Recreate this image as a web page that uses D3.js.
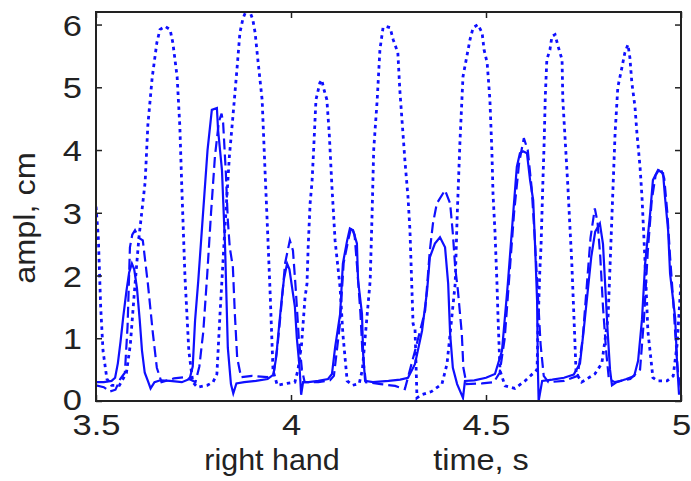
<!DOCTYPE html>
<html>
<head>
<meta charset="utf-8">
<script src="https://cdn.jsdelivr.net/npm/d3@7"></script>
<style>
  body { margin: 0; background: #fff; }
  text { font-family: "Liberation Sans", Arial, sans-serif; fill: #222; }
</style>
</head>
<body>
<svg id="chart" width="691" height="481"></svg>
<script>
// dotted series (large peaks)
var tDot = [3.500,3.506,3.512,3.518,3.528,3.540,3.560,3.578,3.588,3.598,3.610,3.626,3.633,3.644,3.656,3.664,3.677,3.690,3.697,3.708,3.715,3.720,3.728,3.738,3.748,3.760,3.785,3.800,3.810,3.818,3.830,3.842,3.851,3.862,3.869,3.877,3.887,3.895,3.902,3.908,3.915,3.926,3.933,3.938,3.946,3.954,3.965,3.990,4.010,4.018,4.027,4.036,4.041,4.044,4.049,4.054,4.058,4.064,4.074,4.079,4.083,4.092,4.098,4.105,4.113,4.126,4.133,4.144,4.158,4.175,4.183,4.190,4.203,4.208,4.212,4.221,4.228,4.236,4.244,4.254,4.262,4.274,4.279,4.287,4.292,4.300,4.305,4.313,4.318,4.323,4.335,4.360,4.387,4.400,4.408,4.421,4.426,4.433,4.441,4.459,4.467,4.479,4.490,4.495,4.503,4.510,4.515,4.518,4.523,4.528,4.531,4.536,4.549,4.574,4.600,4.631,4.633,4.638,4.641,4.646,4.649,4.652,4.656,4.664,4.669,4.677,4.685,4.695,4.697,4.703,4.710,4.715,4.720,4.727,4.731,4.745,4.779,4.797,4.813,4.831,4.838,4.849,4.856,4.864,4.869,4.874,4.882,4.887,4.895,4.900,4.908,4.915,4.928,4.940,4.964,4.980,4.990,5.000];
var vDot = [3.10,2.60,1.50,0.80,0.35,0.25,0.25,0.45,0.90,1.70,2.60,3.49,4.40,5.15,5.71,5.92,5.97,5.92,5.71,5.17,4.37,3.41,2.00,0.80,0.30,0.22,0.25,0.30,0.43,1.39,2.70,3.90,4.53,5.33,5.87,6.10,6.25,6.20,6.08,5.87,5.44,4.80,3.73,3.00,1.80,0.48,0.25,0.28,0.30,0.50,0.90,1.65,1.87,2.45,3.15,3.50,4.00,4.80,5.07,5.12,5.00,4.80,4.27,3.41,2.56,1.80,1.07,0.32,0.25,0.28,0.50,1.00,1.92,3.00,4.00,4.80,5.60,5.95,5.97,5.95,5.76,5.55,4.96,4.27,3.84,3.25,2.72,1.23,1.15,0.05,0.10,0.15,0.27,0.59,1.07,1.87,2.93,4.10,5.17,5.76,5.95,6.00,5.87,5.60,5.39,4.80,4.00,3.30,2.70,1.90,1.30,0.48,0.24,0.20,0.32,0.50,1.12,2.08,2.45,3.52,4.10,4.85,5.44,5.60,5.81,5.84,5.65,5.44,4.80,4.16,3.41,2.80,2.20,1.10,0.45,0.30,0.43,0.60,1.33,4.27,5.00,5.33,5.55,5.68,5.47,5.07,4.69,4.27,3.73,3.25,2.19,1.12,0.37,0.32,0.32,0.40,0.90,1.90];

// solid series
var tSolid = [3.500,3.520,3.540,3.549,3.556,3.563,3.570,3.578,3.585,3.592,3.598,3.605,3.612,3.618,3.625,3.633,3.640,3.650,3.665,3.690,3.720,3.740,3.748,3.754,3.762,3.770,3.778,3.786,3.797,3.810,3.813,3.823,3.831,3.838,3.846,3.852,3.860,3.880,3.910,3.940,3.955,3.962,3.968,3.975,3.982,3.990,3.996,4.003,4.010,4.015,4.022,4.026,4.031,4.045,4.070,4.095,4.105,4.113,4.126,4.133,4.144,4.151,4.159,4.169,4.172,4.182,4.185,4.190,4.210,4.250,4.280,4.300,4.318,4.336,4.349,4.356,4.369,4.382,4.395,4.403,4.408,4.415,4.426,4.441,4.446,4.470,4.500,4.523,4.541,4.556,4.569,4.579,4.587,4.595,4.605,4.613,4.621,4.626,4.631,4.633,4.635,4.644,4.670,4.700,4.725,4.741,4.750,4.760,4.770,4.780,4.792,4.800,4.806,4.812,4.818,4.823,4.835,4.860,4.880,4.890,4.900,4.908,4.921,4.928,4.941,4.954,4.959,4.967,4.972,4.985,4.990,4.995];
var vSolid = [0.30,0.30,0.32,0.37,0.60,0.95,1.35,1.75,2.05,2.19,2.10,1.80,1.30,0.80,0.45,0.32,0.20,0.30,0.33,0.32,0.30,0.35,0.55,1.28,1.90,2.60,3.30,4.00,4.64,4.67,4.32,3.68,2.45,0.85,0.27,0.12,0.28,0.30,0.32,0.35,0.42,0.70,1.10,1.55,1.95,2.19,2.10,1.80,1.50,1.00,0.53,0.10,0.30,0.30,0.32,0.35,0.43,0.85,1.39,2.19,2.56,2.75,2.72,2.51,1.92,1.39,0.75,0.32,0.30,0.32,0.34,0.37,0.59,1.12,1.76,2.29,2.51,2.61,2.45,1.87,1.07,0.53,0.27,0.05,0.32,0.33,0.37,0.43,0.80,1.87,2.93,3.73,3.95,3.98,3.95,3.52,3.20,2.45,1.60,0.53,0.00,0.32,0.34,0.37,0.42,0.60,1.10,1.70,2.30,2.70,2.83,2.50,1.80,1.10,0.50,0.25,0.30,0.35,0.40,0.64,1.30,2.19,3.00,3.52,3.68,3.63,3.25,2.72,2.03,1.33,0.59,0.10];

// dashed series
var tDash = [3.500,3.520,3.535,3.550,3.562,3.574,3.581,3.587,3.593,3.600,3.610,3.620,3.633,3.646,3.656,3.668,3.700,3.730,3.755,3.765,3.775,3.785,3.795,3.805,3.815,3.822,3.826,3.833,3.838,3.843,3.851,3.856,3.862,3.872,3.900,3.940,3.955,3.965,3.975,3.985,3.997,4.005,4.012,4.020,4.028,4.035,4.070,4.100,4.110,4.125,4.135,4.148,4.155,4.163,4.170,4.178,4.183,4.192,4.230,4.267,4.292,4.318,4.344,4.356,4.364,4.374,4.395,4.408,4.415,4.421,4.428,4.438,4.442,4.450,4.490,4.520,4.535,4.548,4.560,4.572,4.585,4.597,4.607,4.617,4.625,4.632,4.640,4.648,4.660,4.700,4.735,4.748,4.758,4.768,4.779,4.786,4.793,4.800,4.808,4.815,4.830,4.870,4.895,4.905,4.915,4.925,4.935,4.947,4.957,4.965,4.972,4.980,4.987,4.993,5.000];
var vDash = [0.25,0.22,0.15,0.18,0.35,0.45,1.20,2.45,2.65,2.72,2.60,2.56,1.87,1.07,0.53,0.30,0.36,0.38,0.30,0.55,1.10,2.00,3.00,3.90,4.45,4.58,4.43,3.63,2.88,2.45,2.13,1.39,0.69,0.38,0.40,0.38,0.42,0.85,1.50,2.20,2.56,2.40,1.80,1.00,0.50,0.30,0.30,0.33,0.40,1.20,2.20,2.60,2.78,2.65,2.10,1.40,0.80,0.30,0.27,0.24,0.19,0.80,1.44,2.40,2.83,3.15,3.36,3.15,2.67,2.13,1.76,1.07,0.53,0.27,0.28,0.30,0.45,1.00,2.00,3.00,3.80,4.19,4.00,3.40,2.60,1.80,0.90,0.40,0.30,0.32,0.40,1.00,1.80,2.60,3.07,2.85,2.30,1.50,0.80,0.35,0.30,0.35,0.50,1.30,2.40,3.20,3.60,3.72,3.55,3.00,2.30,1.60,0.90,0.40,0.20];

var xTicks = [3.5, 4, 4.5, 5];
var yTicks = [0, 1, 2, 3, 4, 5, 6];

var margin = {top: 12, right: 10, bottom: 80, left: 96};
var width = 691 - margin.left - margin.right;
var height = 481 - margin.top - margin.bottom;

var svg = d3.select("#chart");
var g = svg.append("g").attr("transform", "translate(" + margin.left + "," + margin.top + ")");

var x = d3.scaleLinear().domain([3.5, 5]).range([0, width]);
var y = d3.scaleLinear().domain([0, 6.2]).range([height, 0]);

g.append("clipPath").attr("id", "clip")
  .append("rect").attr("width", width).attr("height", height);

function pts(ts, vs) { return ts.map(function(t, i) { return [t, vs[i]]; }); }

var line = d3.line().x(function(d){ return x(d[0]); }).y(function(d){ return y(d[1]); });

var plot = g.append("g").attr("clip-path", "url(#clip)");
plot.append("path").datum(pts(tSolid, vSolid)).attr("d", line)
  .attr("fill", "none").attr("stroke", "#0f0fff").attr("stroke-width", 2.2);
plot.append("path").datum(pts(tDash, vDash)).attr("d", line)
  .attr("fill", "none").attr("stroke", "#0f0fff").attr("stroke-width", 2.2)
  .attr("stroke-dasharray", "11,5");
plot.append("path").datum(pts(tDot, vDot)).attr("d", line)
  .attr("fill", "none").attr("stroke", "#0f0fff").attr("stroke-width", 2.8)
  .attr("stroke-dasharray", "3.5,4");

// axes box with inward ticks on every side
function styleAxis(sel) {
  sel.select(".domain").remove();
  sel.selectAll(".tick line").attr("stroke", "#222").attr("stroke-width", 1.5);
}
var xb = g.append("g").attr("transform", "translate(0," + height + ")")
  .call(d3.axisBottom(x).tickValues(xTicks).tickSize(-6).tickFormat(d3.format("")))
  .call(styleAxis);
xb.selectAll("text").attr("y", 0).attr("dy", 0)
  .attr("font-size", "30px").attr("fill", "#222")
  .attr("transform", "translate(0,34) scale(1.15,1)");

g.append("g")
  .call(d3.axisTop(x).tickValues(xTicks).tickSize(-6).tickFormat(""))
  .call(styleAxis);

var yl = g.append("g")
  .call(d3.axisLeft(y).tickValues(yTicks).tickSize(-6).tickFormat(d3.format("d")))
  .call(styleAxis);
yl.selectAll("text").attr("x", 0).attr("dy", "0.35em")
  .attr("font-size", "30px").attr("fill", "#222")
  .attr("transform", function(d) { return "translate(-14," + (d === 0 ? -2 : 0) + ") scale(1.15,1)"; });

g.append("g").attr("transform", "translate(" + width + ",0)")
  .call(d3.axisRight(y).tickValues(yTicks).tickSize(-6).tickFormat(""))
  .call(styleAxis);

g.append("rect").attr("width", width).attr("height", height)
  .attr("fill", "none").attr("stroke", "#222").attr("stroke-width", 2);

svg.append("text").attr("transform", "translate(35," + (margin.top + 206) + ") rotate(-90) scale(1.12,1)")
  .attr("text-anchor", "middle").attr("font-size", "29px").text("ampl, cm");
svg.append("text").attr("transform", "translate(272,470) scale(1.05,1)")
  .attr("text-anchor", "middle").attr("font-size", "29px").text("right hand");
svg.append("text").attr("transform", "translate(481,470) scale(1.12,1)")
  .attr("text-anchor", "middle").attr("font-size", "29px").text("time, s");
</script>
</body>
</html>
